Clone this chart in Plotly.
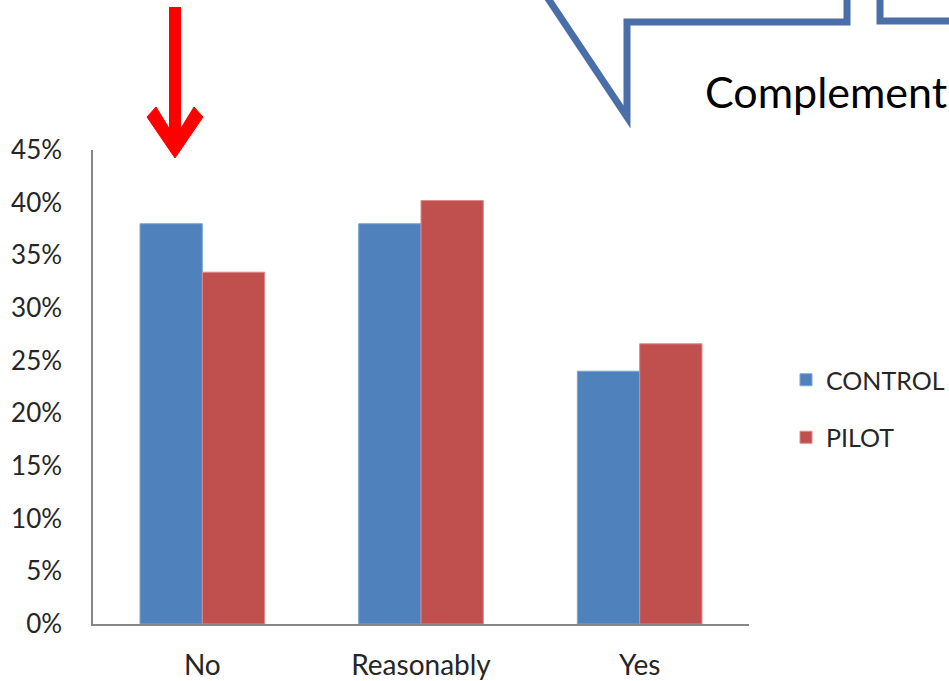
import plotly.graph_objects as go

categories = ["No", "Reasonably", "Yes"]
control = [0.380, 0.380, 0.240]
pilot = [0.334, 0.402, 0.266]
tick_vals = [0, 0.05, 0.10, 0.15, 0.20, 0.25, 0.30, 0.35, 0.40, 0.45]
tick_text = ["0%", "5%", "10%", "15%", "20%", "25%", "30%", "35%", "40%", "45%"]

W, H = 949, 681
L, R, T, B = 93, 749, 150, 624


def px(x):
    return (x - L) / (R - L)


def py(y):
    return (B - y) / (B - T)


def path(points, close=False):
    s = "M " + " L ".join(f"{px(x):.5f},{py(y):.5f}" for x, y in points)
    return s + (" Z" if close else "")


FONT = "Lato, 'Open Sans', sans-serif"

fig = go.Figure()
fig.add_trace(go.Bar(x=categories, y=control, name="CONTROL",
                     marker=dict(color="#4F81BD", line=dict(color="#7FA3D3", width=1)),
                     legendgroup="a"))
fig.add_trace(go.Bar(x=categories, y=pilot, name="PILOT",
                     marker=dict(color="#C0504D", line=dict(color="#D98A88", width=1)),
                     legendgroup="b"))

shapes = []
# callout outline
blue = "#4A6FA8"
shapes.append(dict(type="path", xref="paper", yref="paper",
                   path=path([(545, -6), (627, 117), (627, 22), (847, 22), (847, -6)]),
                   line=dict(color=blue, width=7)))
shapes.append(dict(type="path", xref="paper", yref="paper",
                   path=path([(880, -6), (880, 21), (960, 21)]),
                   line=dict(color=blue, width=7)))
# red arrow
shapes.append(dict(type="rect", xref="paper", yref="paper",
                   x0=px(169), x1=px(181), y0=py(7), y1=py(140),
                   fillcolor="#FF0000", line=dict(width=0)))
shapes.append(dict(type="path", xref="paper", yref="paper",
                   path=path([(147, 117), (156, 107), (175, 138), (194, 107), (203, 117), (175, 158)], close=True),
                   fillcolor="#FF0000", line=dict(color="#FF0000", width=1)))

fig.update_layout(
    width=W, height=H,
    margin=dict(l=L, r=W - R, t=T, b=H - B, pad=0, autoexpand=False),
    paper_bgcolor="white", plot_bgcolor="white",
    barmode="group", bargap=0.43, bargroupgap=0,
    font=dict(family=FONT, size=26, color="#262626"),
    showlegend=True,
    legend=dict(x=px(786), y=py(357), xanchor="left", yanchor="top",
                font=dict(size=25, family=FONT, color="#262626"),
                tracegroupgap=22, traceorder="grouped", bgcolor="rgba(0,0,0,0)"),
    shapes=shapes,
    annotations=[dict(text="Complement", xref="paper", yref="paper",
                      x=px(703), y=py(92), xanchor="left", yanchor="middle",
                      showarrow=False, font=dict(size=43, family=FONT, color="#000000"))],
    xaxis=dict(showline=True, linecolor="#868686", linewidth=1.5, ticks="",
               showgrid=False, zeroline=False, ticklabelstandoff=16, automargin=False,
               tickfont=dict(size=28, family=FONT, color="#262626")),
    yaxis=dict(range=[0, 0.45], tickvals=tick_vals, ticktext=tick_text,
               showline=True, linecolor="#868686", linewidth=1.5, ticks="",
               showgrid=False, zeroline=False, ticklabelstandoff=24, automargin=False,
               tickfont=dict(size=26, family=FONT, color="#262626")),
)

fig.write_html(
    "out.html",
    default_width="949px", default_height="681px",
    post_script="document.documentElement.style.overflow='hidden';"
                "document.body.style.margin='0';document.body.style.overflow='hidden';",
)
